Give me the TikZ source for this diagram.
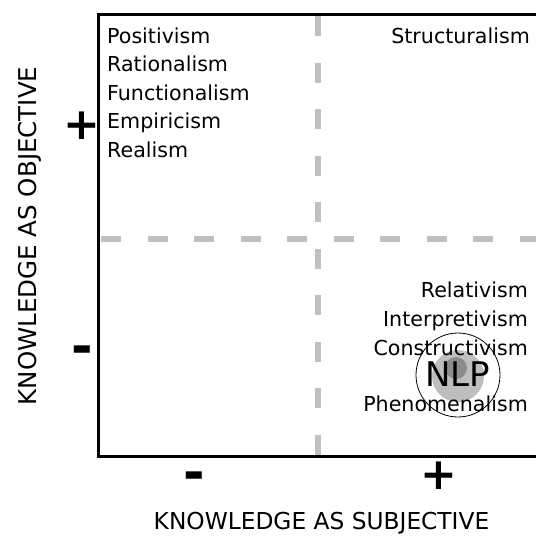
\documentclass[tikz,border=0pt]{standalone}
\usepackage{fontspec}
\setmainfont{DejaVu Sans}
\usetikzlibrary{positioning}
\definecolor{GridGray}{RGB}{192,192,192}
\definecolor{DiscLight}{RGB}{190,190,190}
\definecolor{DiscDark}{RGB}{140,140,140}

\begin{document}
\begin{tikzpicture}[
      x=1pt, y=-1pt,
      term/.style={font=\fontsize{20.6}{24}\selectfont, inner sep=0pt},
      axislabel/.style={font=\fontsize{23.3}{27}\selectfont, inner sep=0pt},
      sign/.style={font=\bfseries\fontsize{44}{48}\selectfont, inner sep=0pt},
      minussign/.style={font=\bfseries\fontsize{52}{56}\selectfont, inner sep=0pt},
      grid/.style={draw=GridGray, line width=6pt, dash pattern=on 20pt off 26.5pt},
      frame/.style={draw=black, line width=3pt}
    ]
    \useasboundingbox (0,0) rectangle (536,536);

    % quadrant lines and frame
    \draw[grid] (318,16) -- (318,456);
    \draw[grid] (101,239) -- (540,239);
    \draw[frame] (540,14) -- (98.5,14) -- (98.5,456) -- (540,456);

    % NLP marker
    \fill[DiscLight] (458,376) circle (26pt);
    \fill[DiscDark] (456,368) circle (11pt);

    % top left quadrant
    \node[term, anchor=base west] (posit) at (107,43) {Positivism};
    \node[term, anchor=base west] (ratio) at (107,71.5) {Rationalism};
    \node[term, anchor=base west] (funct) at (107,100) {Functionalism};
    \node[term, anchor=base west] (empir) at (107,128.5) {Empiricism};
    \node[term, anchor=base west] (realism) at (107,157) {Realism};

    % top right quadrant
    \node[term, anchor=base east] (struct) at (530,43) {Structuralism};

    % bottom right quadrant
    \node[term, anchor=base east] (relat) at (528,297) {Relativism};
    \node[term, anchor=base east] (interp) at (528,326) {Interpretivism};
    \node[term, anchor=base east] (constr) at (528,355) {Constructivism};
    \node[term, anchor=base east] (phenom) at (528,411) {Phenomenalism};
    \node[font=\fontsize{34}{40}\selectfont, inner sep=0pt, anchor=base] (nlp) at (457.5,386) {NLP};
    \draw[line width=0.8pt] (458,375) circle (42pt);

    % axes
    \node[sign] (yplus) at (82,126) {+};
    \node[minussign] (yminus) at (82,355) {-};
    \node[minussign] (xminus) at (194,481) {-};
    \node[sign] (xplus) at (439,476) {+};
    \node[axislabel, font=\fontsize{24.5}{28}\selectfont, rotate=90, anchor=base] (yaxis) at (36,236) {KNOWLEDGE AS OBJECTIVE};
    \node[axislabel, anchor=base] (xaxis) at (321.5,529.5) {KNOWLEDGE AS SUBJECTIVE};
  \end{tikzpicture}
\end{document}
